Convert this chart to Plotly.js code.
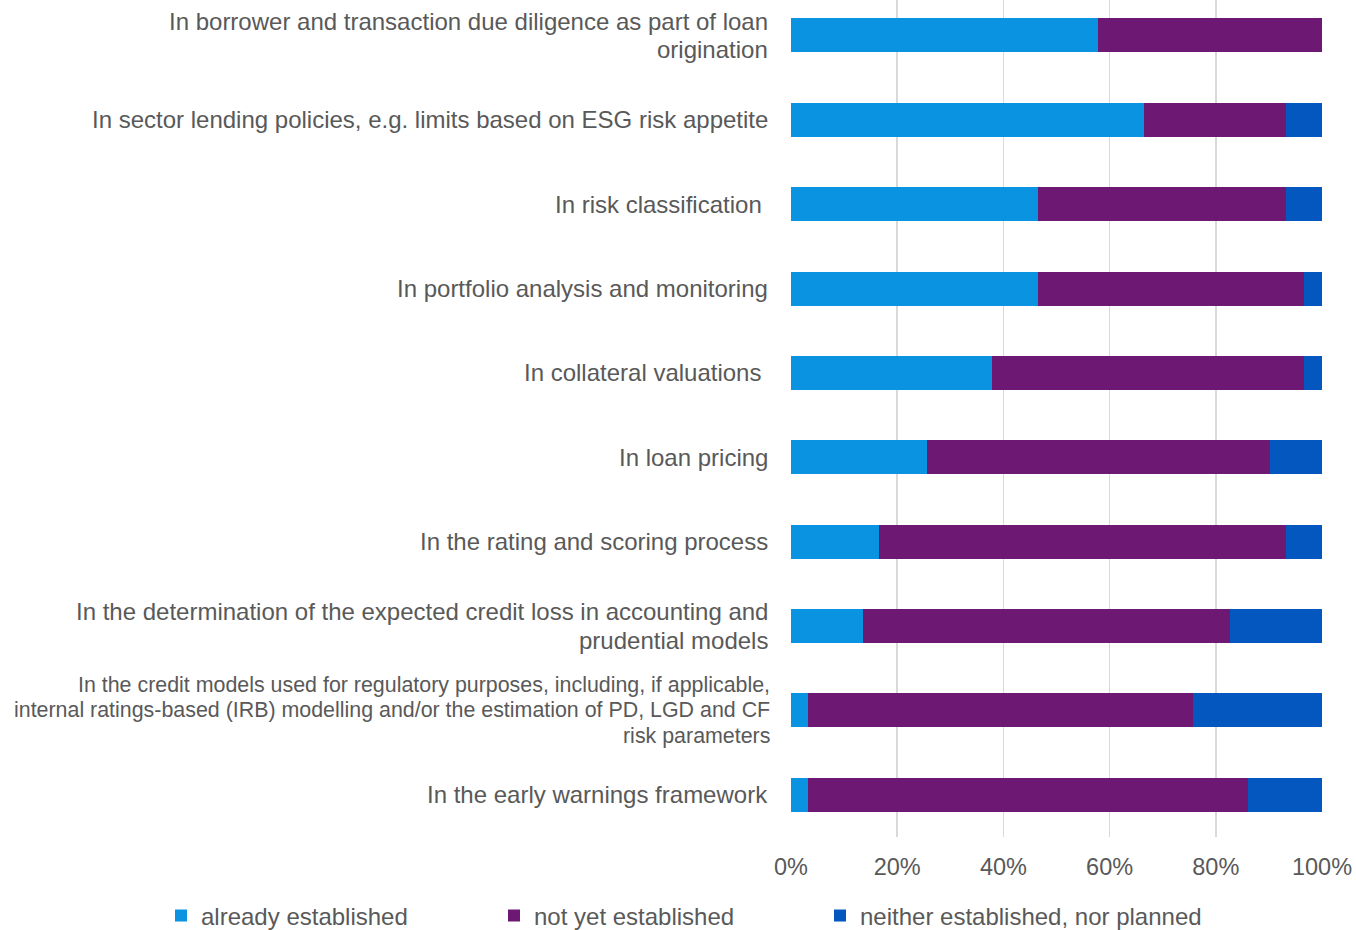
<!DOCTYPE html>
<html>
<head>
<meta charset="utf-8">
<script src="https://cdn.plot.ly/plotly-3.0.1.min.js"></script>
<style>html,body{margin:0;padding:0;background:#fff;}#chart{width:1356px;height:930px;}</style>
</head>
<body>
<div id="chart"></div>
<script>
const categories = [
  "In borrower and transaction due diligence as part of loan<br>origination",
  "In sector lending policies, e.g. limits based on ESG risk appetite",
  "In risk classification\u00a0",
  "In portfolio analysis and monitoring",
  "In collateral valuations\u00a0",
  "In loan pricing",
  "In the rating and scoring process",
  "In the determination of the expected credit loss in accounting and<br>prudential models",
  "In the credit models used for regulatory purposes, including, if applicable,<br>internal ratings-based (IRB) modelling and/or the estimation of PD, LGD and CF<br>risk parameters",
  "In the early warnings framework"
];
const labelSizes = [24, 24, 24, 24, 24, 24, 24, 24, 21.4, 24];
const seriesNames = ["already established", "not yet established", "neither established, nor planned"];
const alreadyEstablished = [57.8, 66.5, 46.5, 46.5, 37.9, 25.6, 16.6, 13.6, 3.2, 3.2];
const notYetEstablished  = [42.2, 26.7, 46.7, 50.1, 58.7, 64.6, 76.6, 69.1, 72.5, 82.9];
const neitherPlanned     = [0.0, 6.8, 6.8, 3.4, 3.4, 9.8, 6.8, 17.3, 24.3, 13.9];
const colors = ["#0a93e0", "#6d1873", "#0457be"];
const xTicks = [0, 20, 40, 60, 80, 100];

const ids = categories.map((c, i) => "c" + i);
const allSeries = [alreadyEstablished, notYetEstablished, neitherPlanned];
const legendKeys = ["legend", "legend2", "legend3"];
const FONT = "Liberation Sans, Arial, sans-serif";

const traces = allSeries.map((vals, k) => ({
  type: "bar",
  orientation: "h",
  name: seriesNames[k],
  x: vals,
  y: ids,
  marker: {color: colors[k], line: {width: 0}},
  legend: legendKeys[k],
  hoverinfo: "skip"
}));

const annotations = [];
categories.forEach((c, i) => {
  const lines = c.split("<br>");
  const n = lines.length;
  const lh = labelSizes[i] * 1.18;
  lines.forEach((ln, j) => {
    annotations.push({
      xref: "paper", yref: "y",
      x: 0, y: ids[i],
      xanchor: "right", yanchor: "middle",
      xshift: n === 3 ? -19 : -21,
      yshift: ((n - 1) / 2 - j) * lh,
      align: "right",
      text: ln,
      showarrow: false,
      font: {family: FONT, size: labelSizes[i], color: "#595959"}
    });
  });
});

const legendFont = {family: FONT, size: 24, color: "#595959"};
const legendBase = {orientation: "h", xref: "container", yref: "container", xanchor: "left", yanchor: "middle",
  y: 14 / 930, font: legendFont, bgcolor: "rgba(0,0,0,0)", itemwidth: 30, tracegroupgap: 0};

const layout = {
  width: 1356, height: 930,
  margin: {l: 791, r: 34, t: 0, b: 93},
  paper_bgcolor: "#ffffff", plot_bgcolor: "#ffffff",
  barmode: "stack",
  bargap: 0.597,
  font: {family: FONT, color: "#595959"},
  xaxis: {
    range: [0, 100], tickvals: xTicks, ticktext: xTicks.map(v => v + "%"),
    showgrid: true, gridcolor: "#d9d9d9", gridwidth: 1.5,
    zeroline: false, showline: false,
    ticks: "outside", ticklen: 9, tickcolor: "rgba(0,0,0,0)",
    tickfont: {size: 23.5, color: "#595959"}, fixedrange: true
  },
  yaxis: {
    type: "category", categoryorder: "array", categoryarray: ids,
    range: [9.5, -0.42], showticklabels: false, showgrid: false,
    zeroline: false, showline: false, fixedrange: true
  },
  annotations: annotations,
  showlegend: true,
  legend: Object.assign({}, legendBase, {x: 161 / 1356}),
  legend2: Object.assign({}, legendBase, {x: 494 / 1356}),
  legend3: Object.assign({}, legendBase, {x: 820 / 1356})
};

Plotly.newPlot("chart", traces, layout, {displayModeBar: false, staticPlot: true});
</script>
</body>
</html>
